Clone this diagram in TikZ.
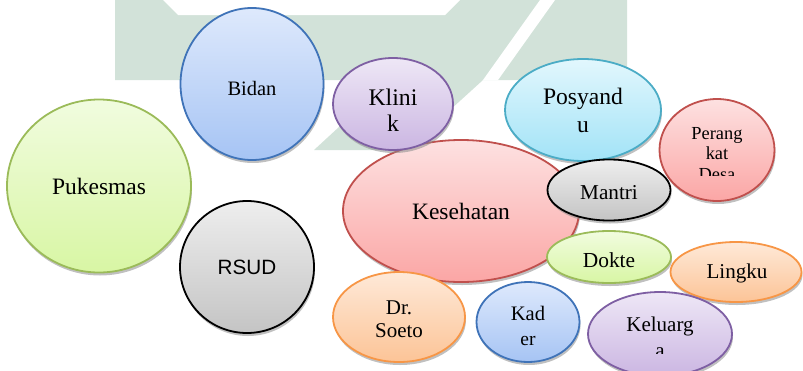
\documentclass[tikz,border=0pt]{standalone}
\usepackage{fontspec}
\setmainfont{Liberation Serif}
\newfontfamily\arialfont{Liberation Sans}
\usetikzlibrary{shapes.geometric,shadows}
\definecolor{wm}{HTML}{D2E2D9}
\definecolor{grnB}{HTML}{9BBB59}\definecolor{grnT}{HTML}{F1FCDF}\definecolor{grnD}{HTML}{D8F6A4}
\definecolor{bluB}{HTML}{3F73B8}\definecolor{bluT}{HTML}{DEE9FC}\definecolor{bluD}{HTML}{A6C4F4}
\definecolor{purB}{HTML}{7E5FA3}\definecolor{purT}{HTML}{EEE7F6}\definecolor{purD}{HTML}{CBB6E2}
\definecolor{cyaB}{HTML}{4BACC6}\definecolor{cyaT}{HTML}{E2F7FD}\definecolor{cyaD}{HTML}{A2E3F7}
\definecolor{redB}{HTML}{C0504D}\definecolor{redT}{HTML}{FDE1E1}\definecolor{redD}{HTML}{FBA6A5}
\definecolor{gryT}{HTML}{EEEEEE}\definecolor{gryD}{HTML}{C4C4C4}
\definecolor{orgB}{HTML}{F79646}\definecolor{orgT}{HTML}{FEE9D8}\definecolor{orgD}{HTML}{FCC497}
\tikzset{
  bub/.style={ellipse,inner sep=0pt,line width=1.8pt,align=center,text=black,
    drop shadow={shadow xshift=1pt,shadow yshift=-3pt,fill=black!45,opacity=.55}},
  gbub/.style={bub,draw=grnB,top color=grnT,bottom color=grnD},
  bbub/.style={bub,draw=bluB,top color=bluT,bottom color=bluD},
  pbub/.style={bub,draw=purB,top color=purT,bottom color=purD},
  cbub/.style={bub,draw=cyaB,top color=cyaT,bottom color=cyaD},
  rbub/.style={bub,draw=redB,top color=redT,bottom color=redD},
  kbub/.style={bub,draw=black,top color=gryT,bottom color=gryD},
  obub/.style={bub,draw=orgB,top color=orgT,bottom color=orgD},
  lbl/.style={inner sep=0pt,align=center,text=black}
}
\begin{document}
\begin{tikzpicture}[x=1pt,y=-1pt]
\useasboundingbox (0,0) rectangle (803,370);
% watermark
\fill[wm] (115,0) -- (627,0) -- (627,80) -- (483,80) -- (406,150) -- (314,150) -- (390,80) -- (115,80) -- cycle;
\fill[white] (163,0) -- (178,15) -- (445,15) -- (460,0) -- cycle;
\fill[white] (540,0) -- (555,0) -- (498,80) -- (483,80) -- cycle;
% bubbles
\node[gbub,minimum width=184pt,minimum height=173pt,font=\fontsize{23.5}{26}\selectfont] (puk) at (99,186) {Pukesmas};
\node[bbub,minimum width=143pt,minimum height=152pt] (bid) at (252,84) {};
\node[lbl,font=\fontsize{20.5}{23}\selectfont] (bidt) at (252,88) {Bidan};
\node[kbub,minimum width=134pt,minimum height=132pt,font=\arialfont\fontsize{20.7}{23}\selectfont] (rsud) at (247,267) {RSUD};
\node[rbub,minimum width=236pt,minimum height=142pt,font=\fontsize{23.5}{26}\selectfont] (kes) at (461,211) {Kesehatan};
\node[pbub,minimum width=120pt,minimum height=92pt] (kli) at (393,104) {};
\node[lbl,font=\fontsize{23.8}{26}\selectfont] (klit) at (393,110) {Klini\\k};
\node[cbub,minimum width=156pt,minimum height=102pt,font=\fontsize{23.6}{28}\selectfont] (pos) at (583,110) {Posyand\\u};
\node[rbub,minimum width=115pt,minimum height=102pt] (per) at (717,150) {};
\begin{scope}
\clip (650,95) rectangle (790,175.5);
\node[lbl,font=\fontsize{18.4}{20.5}\selectfont] (pert) at (717,154) {Perang\\kat\\Desa};
\end{scope}
\node[kbub,minimum width=123pt,minimum height=61pt] (man) at (609,190) {};
\node[lbl,font=\fontsize{21.2}{24}\selectfont] (mant) at (609,193) {Mantri};
\node[gbub,minimum width=124pt,minimum height=52pt] (dok) at (609,257) {};
\node[lbl,font=\fontsize{21.4}{24}\selectfont] (dokt) at (609,260) {Dokte};
\node[obub,minimum width=131pt,minimum height=60pt] (lin) at (736,272) {};
\node[lbl,font=\fontsize{21.1}{24}\selectfont] (lint) at (737,273) {Lingku};
\node[pbub,minimum width=144pt,minimum height=84pt] (kel) at (660,334) {};
\begin{scope}
\clip (580,280) rectangle (740,353);
\node[lbl,font=\fontsize{21}{26}\selectfont] (kelt) at (660,337) {Keluarg\\a};
\end{scope}
\node[bbub,minimum width=103pt,minimum height=80pt] (kad) at (528,322) {};
\node[lbl,font=\fontsize{20.6}{25}\selectfont] (kadt) at (528,326) {Kad\\{\fontsize{19.5}{25}\selectfont er}};
\node[obub,minimum width=132pt,minimum height=90pt] (soe) at (399,317) {};
\node[lbl,font=\fontsize{21}{23}\selectfont] (soet) at (399,319) {Dr.\\Soeto};
\end{tikzpicture}
\end{document}
